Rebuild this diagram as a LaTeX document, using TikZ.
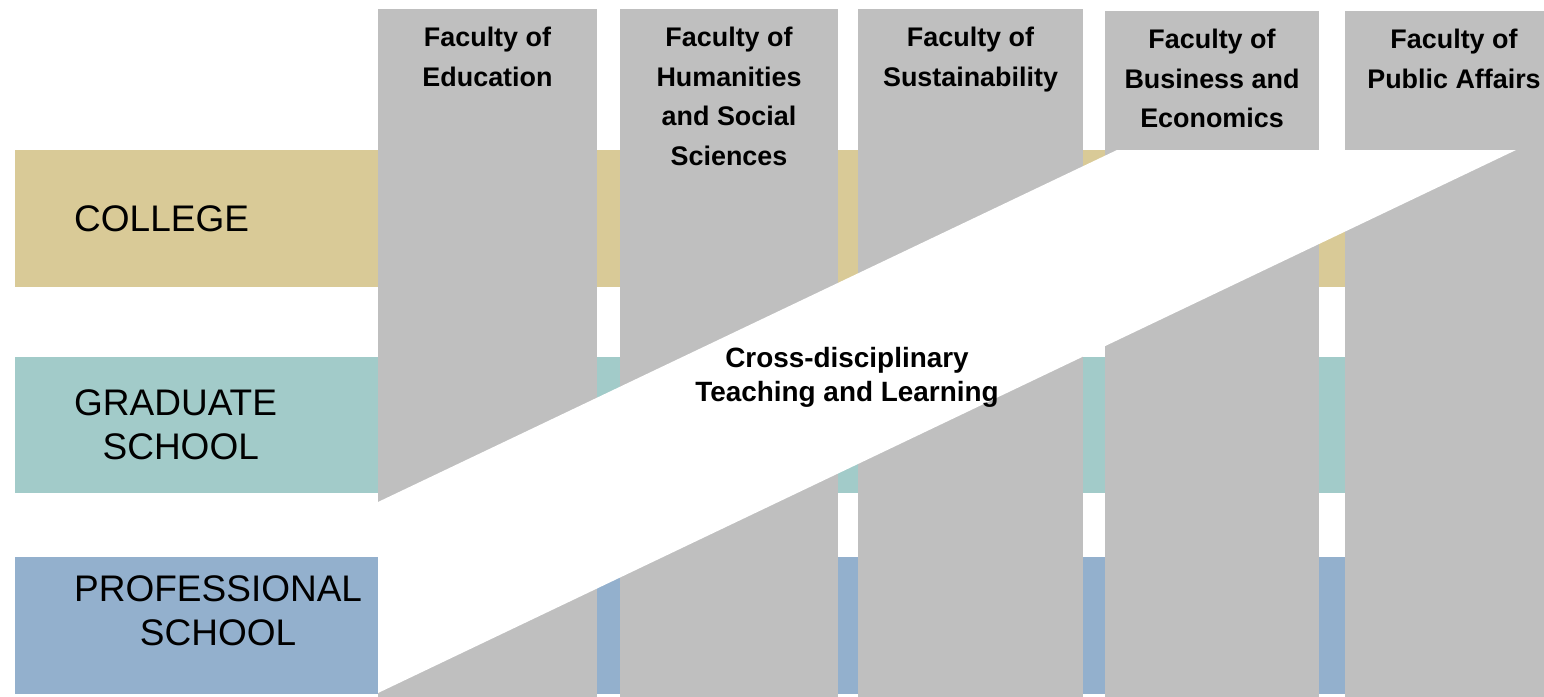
\documentclass[tikz,border=0pt]{standalone}
\usepackage{fontspec}
\setmainfont{Liberation Sans}
\definecolor{collegec}{RGB}{217,202,151}
\definecolor{gradc}{RGB}{162,203,201}
\definecolor{profc}{RGB}{147,176,205}
\definecolor{colc}{RGB}{191,191,191}
\begin{document}
\begin{tikzpicture}[x=1pt,y=-1pt,
  band/.style={rectangle, inner sep=0pt, outer sep=0pt, anchor=north west, minimum width=1545pt},
  faculty/.style={rectangle, fill=colc, inner sep=0pt, outer sep=0pt, anchor=north west, minimum height=700pt},
  factext/.style={inner sep=0pt, anchor=north, align=center, font={\fontsize{26.9}{39.5}\selectfont\bfseries}},
  bandtext/.style={inner sep=0pt, anchor=west, align=center, font={\fontsize{37}{44.5}\selectfont}},
  crosstext/.style={inner sep=0pt, align=center, font={\fontsize{27.9}{34.5}\selectfont\bfseries}}]
\useasboundingbox (0,0) rectangle (1544,696);
\clip (0,0) rectangle (1544,696);
% bands
\node[band, fill=collegec, minimum height=137pt] (college) at (15,150) {};
\node[band, fill=gradc, minimum height=136pt] (grad) at (15,357) {};
\node[band, fill=profc, minimum height=137pt] (prof) at (15,557) {};
% faculty columns
\node[faculty, minimum width=219pt] (f1) at (378,9) {};
\node[faculty, minimum width=218pt] (f2) at (620,9) {};
\node[faculty, minimum width=225pt] (f3) at (858,9) {};
\node[faculty, minimum width=214pt] (f4) at (1105,11) {};
\node[faculty, minimum width=218pt] (f5) at (1345,11) {};
% cross-disciplinary band
\fill[white] (378,502) -- (1117,150) -- (1516,150) -- (378,693) -- cycle;
% texts
\node[bandtext] (tcollege) at (74,219) {COLLEGE};
\node[bandtext] (tgrad) at (74,425) {GRADUATE\\\hspace*{10.3pt}SCHOOL};
\node[bandtext] (tprof) at (74,611) {PROFESSIONAL\\SCHOOL};
\node[factext] (t1) at (487.5,27) {Faculty of\\Education};
\node[factext] (t2) at (729,27) {Faculty of\\Humanities\\and Social\\Sciences};
\node[factext] (t3) at (970.5,27) {Faculty of\\Sustainability};
\node[factext] (t4) at (1212,29) {Faculty of\\Business and\\Economics};
\node[factext] (t5) at (1454,29) {Faculty of\\Public Affairs};
\node[crosstext] (tcross) at (847,377.5) {Cross-disciplinary\\Teaching and Learning};
\end{tikzpicture}
\end{document}
